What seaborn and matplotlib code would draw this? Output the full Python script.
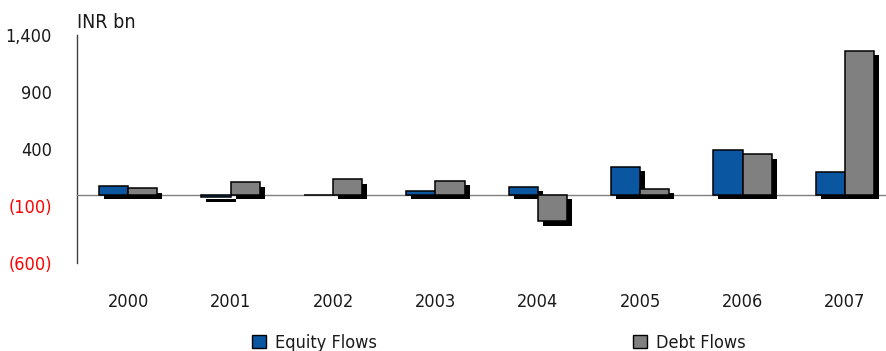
import numpy as np
import pandas as pd
import matplotlib
matplotlib.use("Agg")
import matplotlib.pyplot as plt
import matplotlib.patheffects as pe
from matplotlib.patches import Patch
from matplotlib.ticker import FixedLocator, FuncFormatter
import seaborn as sns

# Annual portfolio flows, INR bn
years = ["2000", "2001", "2002", "2003", "2004", "2005", "2006", "2007"]
equity_flows = [73, -22, 0, 32, 67, 246, 387, 194]
debt_flows = [55, 108, 134, 120, -235, 50, 352, 1264]
series_names = ["Equity Flows", "Debt Flows"]
series_colors = ["#0B56A0", "#808080"]
y_ticks = [-600, -100, 400, 900, 1400]
unit_label = "INR bn"

sns.set_style("white")
plt.rcParams["font.family"] = ["DejaVu Sans"]
plt.rcParams["font.stretch"] = "condensed"

df = pd.DataFrame({
    "Year": years * 2,
    "Flow": [series_names[0]] * len(years) + [series_names[1]] * len(years),
    "Value": equity_flows + debt_flows,
})

W, H = 886, 351
fig = plt.figure(figsize=(W / 100, H / 100), dpi=100)
ax = fig.add_axes([77 / W, 88 / H, 1 - 77 / W, 228 / H])

palette = dict(zip(series_names, series_colors))
sns.barplot(data=df, x="Year", y="Value", hue="Flow", hue_order=series_names,
            palette=palette, width=0.57, edgecolor="black", linewidth=1.1,
            saturation=1, errorbar=None, legend=False, ax=ax)

# drop shadow behind every bar
for p in ax.patches:
    p.set_zorder(3)
    p.set_path_effects([
        pe.SimplePatchShadow(offset=(3.6, -3.2), shadow_rgbFace="black", alpha=1.0),
        pe.Normal(),
    ])

ax.set_xlim(-0.5, 7.4)
ax.set_ylim(-600, 1400)
ax.set_xlabel("")
ax.set_ylabel("")

for s in ("top", "right"):
    ax.spines[s].set_visible(False)
ax.spines["left"].set_color("#404040")
ax.spines["left"].set_linewidth(1.0)
ax.spines["bottom"].set_position(("data", 0))
ax.spines["bottom"].set_color("#808080")
ax.spines["bottom"].set_linewidth(1.0)

ax.xaxis.set_minor_locator(FixedLocator(np.arange(-0.5, len(years), 1.0)))
ax.tick_params(axis="x", which="minor", length=4.5, width=1.0, color="#404040", direction="out")
ax.tick_params(axis="x", which="major", length=0, pad=70.5, labelsize=13, labelcolor="#1a1a1a")

ax.set_yticks(y_ticks)
ax.yaxis.set_major_formatter(FuncFormatter(
    lambda v, _: f"({abs(v):,.0f})" if v < 0 else f"{v:,.0f}"))
ax.tick_params(axis="y", length=5, width=1.0, color="#404040", pad=13,
               labelsize=13, labelcolor="#1a1a1a")
for tick, val in zip(ax.yaxis.get_major_ticks(), y_ticks):
    if val < 0:
        tick.label1.set_color("#FF0000")

fig.text(77 / W, 1 - 23 / H, unit_label, ha="left", va="center",
         fontsize=14, color="#1a1a1a")

handles = [Patch(facecolor=c, edgecolor="black", linewidth=1.0) for c in series_colors]
fig.legend(handles, series_names, loc="center", bbox_to_anchor=(499 / W, 1 - 343 / H),
           ncol=2, frameon=False, fontsize=13, handlelength=0.75, handleheight=0.75,
           handletextpad=0.5, columnspacing=14.2, borderpad=0, labelcolor="#1a1a1a")

fig.savefig("out.png", dpi=100)
